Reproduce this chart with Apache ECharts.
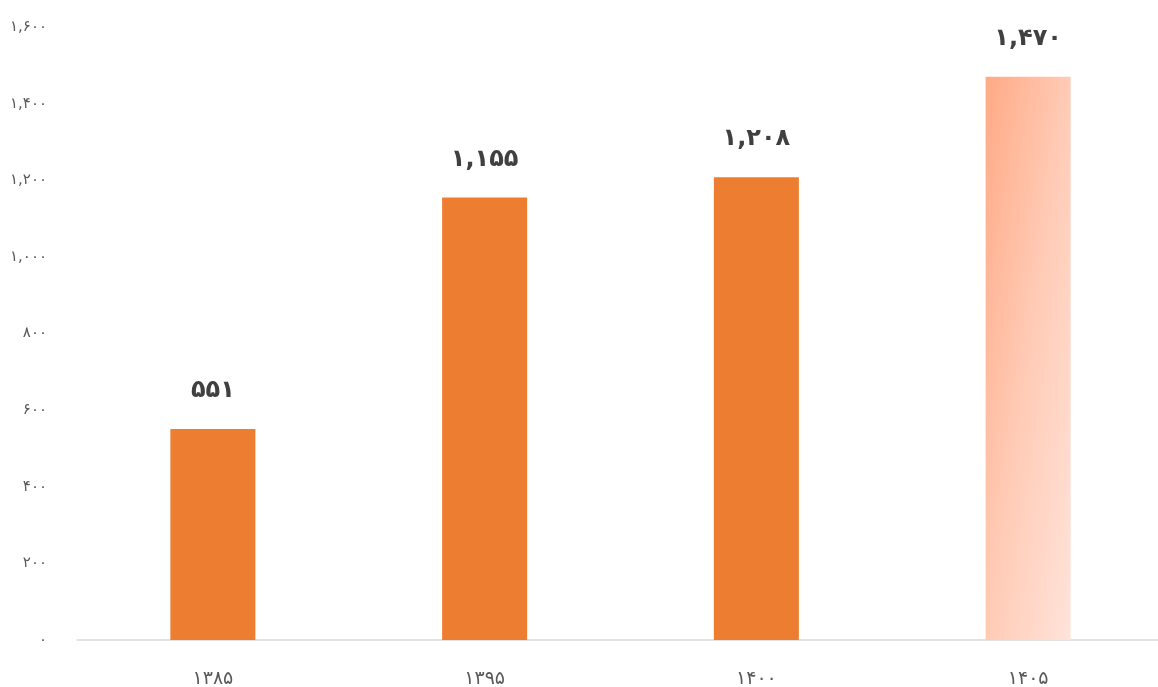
<!DOCTYPE html>
<html>
<head>
<meta charset="utf-8">
<script src="https://cdn.jsdelivr.net/npm/echarts@6/dist/echarts.min.js"></script>
<style>
  html, body { margin: 0; padding: 0; background: #ffffff; }
  #chart { width: 1158px; height: 687px; }
</style>
</head>
<body>
<div id="chart"></div>
<script>
// Years (Solar Hijri) and values
const categories = ['۱۳۸۵', '۱۳۹۵', '۱۴۰۰', '۱۴۰۵'];
const values = [551, 1155, 1208, 1470];
const yMin = 0;
const yMax = 1600;
const yStep = 200;

const FONT = "'DejaVu Sans', 'Noto Sans', sans-serif";

// Latin digits -> Persian digits, keeping a comma as thousands separator
function toFa(n) {
  const s = String(Math.round(n)).replace(/\B(?=(\d{3})+(?!\d))/g, ',');
  return s.replace(/\d/g, d => '۰۱۲۳۴۵۶۷۸۹'[+d]);
}

const solid = '#ED7D31';
// Projected bar: soft gradient running corner to corner of the bar's box
// (isolines along the anti-diagonal, so it lightens left->right and top->bottom)
const BAR_W = 85, BAR_H = 563;
const d = BAR_W * BAR_W + BAR_H * BAR_H;
const projected = {
  type: 'linear', x: 0, y: 0,
  x2: 2 * BAR_H * BAR_H / d, y2: 2 * BAR_W * BAR_W / d,
  colorStops: [
    { offset: 0, color: '#FFAA86' },
    { offset: 0.5, color: '#FFCBB6' },
    { offset: 1, color: '#FFE3DA' }
  ]
};

const seriesData = values.map((v, i) => ({
  value: v,
  itemStyle: { color: i === values.length - 1 ? projected : solid }
}));

const chart = echarts.init(document.getElementById('chart'));
chart.setOption({
  backgroundColor: '#ffffff',
  animation: false,
  grid: { left: 77, top: 27, right: -6, bottom: 47, outerBoundsMode: 'none' },
  xAxis: {
    type: 'category',
    data: categories,
    axisLine: { show: true, lineStyle: { color: '#D9D9D9', width: 1.5 } },
    axisTick: { show: false },
    axisLabel: { color: '#595959', fontSize: 19, fontFamily: FONT, margin: 30 }
  },
  yAxis: {
    type: 'value',
    min: yMin, max: yMax, interval: yStep,
    splitLine: { show: false },
    axisLine: { show: false },
    axisTick: { show: false },
    axisLabel: {
      color: '#595959', fontSize: 15, fontFamily: FONT, margin: 30,
      formatter: v => toFa(v)
    }
  },
  series: [{
    type: 'bar',
    data: seriesData,
    barWidth: 85,
    label: {
      show: true,
      position: 'top',
      distance: 26,
      color: '#404040',
      fontSize: 24,
      fontWeight: 'bold',
      fontFamily: FONT,
      formatter: p => toFa(p.value)
    }
  }]
});
</script>
</body>
</html>
